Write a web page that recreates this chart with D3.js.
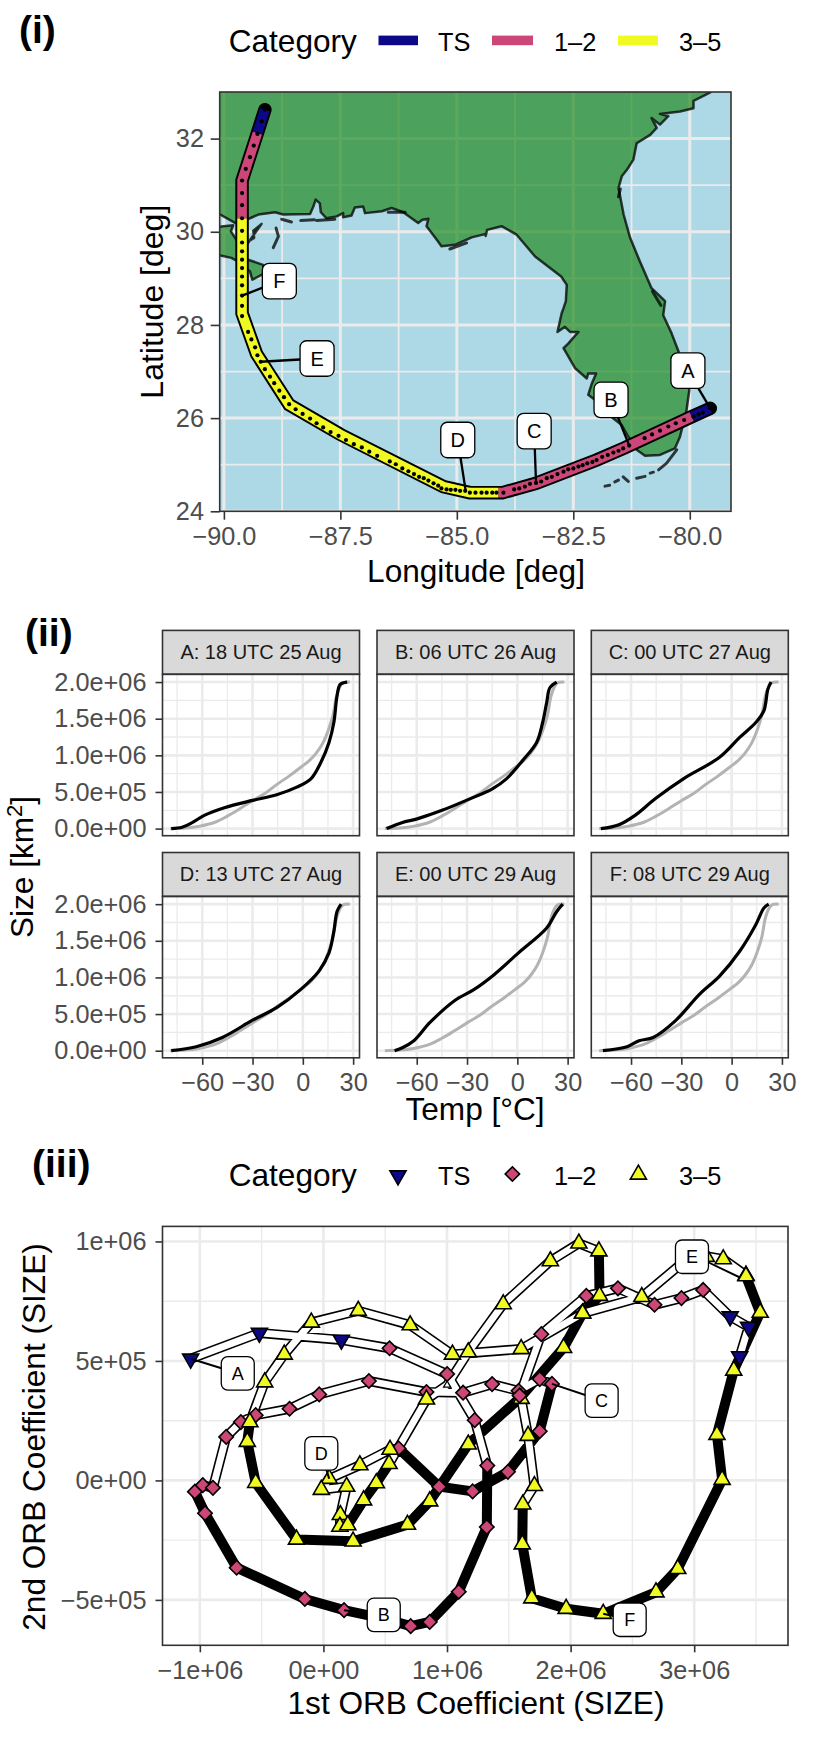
<!doctype html>
<html>
<head>
<meta charset="utf-8">
<title>Track, profiles and ORB coefficients</title>
<script src="https://cdn.jsdelivr.net/npm/d3@7/dist/d3.min.js"></script>
<style>
body { margin: 0; background: #fff; }
text { font-family: "Liberation Sans", Arial, sans-serif; }
</style>
</head>
<body>
<div id="chart-area"></div>
<script>
// Category colours and legend names
var categories = ["TS", "1\u20132", "3\u20135"];
var categoryColors = ["#0D0887", "#CC4678", "#F0F921"];
var labelNames = ["A", "B", "C", "D", "E", "F"];

// ---- Panel (i): map data, lon / lat in degrees
var lonTicks = [-90, -87.5, -85, -82.5, -80];
var lonLabels = ["\u221290.0", "\u221287.5", "\u221285.0", "\u221282.5", "\u221280.0"];
var lonMinor = [-88.75, -86.25, -83.75, -81.25];
var latTicks = [24, 26, 28, 30, 32];
var latMinor = [25, 27, 29, 31];

var coastLon = [-90.3, -90.1, -89.76, -89.44, -89.26, -88.90, -88.73, -88.15, -88.08, -88.03, -87.94, -87.92, -87.80, -87.58, -87.44, -87.44, -87.26, -87.19, -87.01, -86.97, -86.61, -86.40, -86.15, -85.83, -85.74, -85.61, -85.65, -85.43, -85.33, -85.04, -84.68, -84.40, -84.38, -84.35, -84.04, -83.72, -83.32, -82.76, -82.64, -82.66, -82.71, -82.75, -82.84, -82.68, -82.57, -82.39, -82.61, -82.71, -82.46, -82.21, -82.18, -82.01, -82.10, -82.18, -82.03, -81.64, -81.46, -81.32, -81.14, -80.96, -80.64, -80.32, -80.21, -80.07, -80.01, -80.21, -80.39, -80.57, -80.53, -80.82, -81.07, -81.28, -81.42, -81.50, -81.53, -81.46, -81.35, -81.21, -81.14, -80.85, -80.71, -80.82, -80.64, -80.46, -80.64, -80.21, -79.92, -79.92, -79.56, -79.40, -90.3];
var coastLat = [30.38, 30.38, 30.19, 30.29, 30.37, 30.42, 30.37, 30.38, 30.54, 30.69, 30.61, 30.42, 30.29, 30.33, 30.40, 30.31, 30.35, 30.52, 30.54, 30.40, 30.44, 30.51, 30.42, 30.19, 30.26, 30.28, 30.12, 29.83, 29.69, 29.72, 29.88, 29.95, 29.91, 30.04, 30.12, 29.94, 29.47, 29.04, 28.86, 28.51, 28.36, 28.25, 27.85, 27.96, 27.85, 27.85, 27.60, 27.50, 27.07, 26.85, 26.96, 26.96, 26.75, 26.50, 26.39, 25.99, 25.85, 25.60, 25.32, 25.19, 25.21, 25.35, 25.60, 26.17, 26.60, 27.35, 27.82, 28.21, 28.51, 28.79, 29.36, 29.87, 30.37, 30.79, 30.94, 31.19, 31.33, 31.55, 31.90, 32.08, 32.23, 32.44, 32.30, 32.48, 32.53, 32.58, 32.65, 32.81, 32.99, 33.3, 33.3];
var deltaLon = [-90.3, -89.80, -89.85, -89.69, -89.48, -89.35, -89.37, -89.19, -89.66, -89.48, -89.16, -89.13, -89.39, -89.44, -89.69, -89.84, -90.3];
var deltaLat = [30.09, 30.14, 30.01, 29.76, 29.79, 29.87, 30.02, 30.17, 29.51, 29.40, 29.29, 29.11, 28.97, 29.15, 29.36, 29.44, 29.54];
// islands, one list of [lon, lat] per island
var islands = [
    [[-88.76, 30.27], [-88.55, 30.21]],
    [[-88.35, 30.24], [-88.06, 30.26]],
    [[-88.01, 30.24], [-87.62, 30.27]],
    [[-88.88, 30.08], [-88.83, 29.90], [-88.94, 29.66]],
    [[-86.47, 30.42], [-86.11, 30.42]],
    [[-85.15, 29.63], [-84.79, 29.76]],
    [[-80.80, 28.72], [-80.62, 28.42]],
    [[-81.49, 30.92], [-81.53, 30.75]],
    [[-81.82, 24.54], [-81.72, 24.56]],
    [[-81.61, 24.63], [-81.53, 24.67]],
    [[-81.43, 24.74], [-81.32, 24.64]],
    [[-81.14, 24.71], [-80.96, 24.75]],
    [[-80.85, 24.82], [-80.78, 24.84]],
    [[-80.67, 24.89], [-80.50, 25.03], [-80.28, 25.32]]
];

// band along the track, with a vertex where the category changes
var trackLon = [-79.56, -79.96, -81.40, -82.00, -83.30, -84.02, -84.11, -84.72, -85.29, -87.50, -88.60, -89.30, -89.61, -89.61, -89.61, -89.28, -89.12];
var trackLat = [26.21, 26.03, 25.36, 25.10, 24.60, 24.40, 24.40, 24.40, 24.53, 25.65, 26.29, 27.38, 28.25, 30.29, 31.10, 32.12, 32.62];
var trackRuns = [[0, 1, 0], [1, 6, 1], [6, 13, 2], [13, 15, 1], [15, 16, 0]];

// hourly positions
var dotLon = [-79.56, -79.72, -79.81, -79.92, -80.12, -80.30, -80.46, -80.64, -80.81, -80.97, -81.30, -81.43, -81.53, -81.64, -81.76, -81.88, -82.00, -82.09, -82.20, -82.30, -82.39, -82.50, -82.61, -82.71, -82.84, -82.96, -83.07, -83.19, -83.30, -83.43, -83.54, -83.66, -83.77, -84.00, -84.15, -84.24, -84.36, -84.47, -84.60, -84.72, -84.82, -84.93, -85.03, -85.13, -85.22, -85.33, -85.40, -85.50, -85.61, -85.71, -85.81, -85.92, -86.04, -86.17, -86.31, -86.44, -86.71, -86.88, -87.04, -87.21, -87.38, -87.54, -87.71, -87.87, -88.01, -88.15, -88.31, -88.46, -88.60, -88.71, -88.81, -88.92, -89.01, -89.12, -89.21, -89.28, -89.33, -89.41, -89.48, -89.61, -89.61, -89.61, -89.61, -89.61, -89.61, -89.61, -89.61, -89.61, -89.61, -89.61, -89.61, -89.61, -89.61, -89.53, -89.44, -89.36, -89.28, -89.19, -89.12];
var dotLat = [26.21, 26.12, 26.08, 26.03, 25.96, 25.89, 25.82, 25.73, 25.65, 25.57, 25.41, 25.35, 25.30, 25.26, 25.21, 25.17, 25.10, 25.06, 25.03, 24.99, 24.96, 24.92, 24.90, 24.85, 24.80, 24.74, 24.71, 24.64, 24.61, 24.59, 24.53, 24.49, 24.47, 24.40, 24.40, 24.40, 24.40, 24.40, 24.40, 24.40, 24.44, 24.44, 24.46, 24.46, 24.47, 24.49, 24.55, 24.60, 24.66, 24.71, 24.74, 24.80, 24.86, 24.92, 25.01, 25.07, 25.19, 25.28, 25.37, 25.44, 25.53, 25.62, 25.70, 25.80, 25.89, 25.99, 26.09, 26.19, 26.30, 26.45, 26.59, 26.75, 26.89, 27.05, 27.21, 27.35, 27.52, 27.69, 27.85, 28.19, 28.41, 28.63, 28.85, 29.04, 29.22, 29.40, 29.58, 29.77, 30.02, 30.29, 30.57, 30.83, 31.10, 31.35, 31.60, 31.85, 32.10, 32.37, 32.62];

var mapLabelLon = [-80.04, -81.69, -83.34, -84.98, -88.00, -88.81];
var mapLabelLat = [27.02, 26.39, 25.72, 25.53, 27.28, 28.94];
var mapTargetLon = [-79.56, -81.30, -83.30, -84.81, -89.21, -89.61];
var mapTargetLat = [26.21, 25.41, 24.61, 24.44, 27.21, 28.63];

// ---- Panel (ii): temperature in deg C, size in 1e6 km2
var stripNames = ["A: 18 UTC 25 Aug", "B: 06 UTC 26 Aug", "C: 00 UTC 27 Aug", "D: 13 UTC 27 Aug", "E: 00 UTC 29 Aug", "F: 08 UTC 29 Aug"];
var tempTicks = [-60, -30, 0, 30];
var tempLabels = ["\u221260", "\u221230", "0", "30"];
var tempMinor = [-75, -45, -15, 15];
var sizeTicks = [0, 0.5, 1, 1.5, 2];
var sizeLabels = ["0.0e+00", "5.0e+05", "1.0e+06", "1.5e+06", "2.0e+06"];
var sizeMinor = [0.25, 0.75, 1.25, 1.75];

var meanTemp = [-79, -70, -62, -52, -45, -38, -30, -22, -15, -8, -1, 4, 8, 12, 15, 18, 20, 22, 24, 28];
var meanSize = [0, 0.008, 0.03, 0.09, 0.17, 0.265, 0.38, 0.49, 0.61, 0.72, 0.84, 0.93, 1.03, 1.17, 1.33, 1.55, 1.8, 1.93, 1.99, 2];

var tempA = [-78.5, -72, -66, -58.8, -46.8, -30, -15.6, -3.6, 4.8, 10.8, 15.6, 18.5, 20.4, 22.3, 26.4];
var sizeA = [0, 0.018, 0.081, 0.181, 0.285, 0.385, 0.462, 0.566, 0.679, 0.905, 1.176, 1.448, 1.81, 1.968, 2];
var tempB = [-78, -68.9, -59.3, -44.9, -30.5, -14.9, -6.5, 3.1, 11.5, 15.1, 17.5, 19.4, 23.5];
var sizeB = [0, 0.081, 0.136, 0.249, 0.385, 0.543, 0.679, 0.928, 1.176, 1.448, 1.719, 1.923, 2];
var tempC = [-78, -67.2, -57.6, -45.6, -28.8, -7.2, 4.8, 14.4, 19.2, 21.6, 23.5];
var sizeC = [0, 0.054, 0.181, 0.407, 0.679, 0.973, 1.244, 1.448, 1.606, 1.9, 2];
var tempD = [-78.5, -63.6, -48, -30, -15.6, -1.2, 9.6, 15.6, 18.5, 20.4, 22.8];
var sizeD = [0, 0.054, 0.181, 0.416, 0.588, 0.837, 1.086, 1.335, 1.629, 1.9, 2];
var tempE = [-73.2, -68.9, -61.7, -52.1, -37.7, -25.7, -13.7, 0.7, 17.5, 23.5, 27.1];
var sizeE = [0, 0.036, 0.136, 0.385, 0.679, 0.837, 1.041, 1.335, 1.674, 1.9, 2];
var tempF = [-76.8, -62.4, -55.2, -46.8, -33.6, -19.2, -7.2, 4.8, 14.4, 19.2, 22.1];
var sizeF = [0, 0.054, 0.136, 0.181, 0.407, 0.769, 1.018, 1.357, 1.719, 1.946, 2];
var profileTemps = [tempA, tempB, tempC, tempD, tempE, tempF];
var profileSizes = [sizeA, sizeB, sizeC, sizeD, sizeE, sizeF];

// ---- Panel (iii): ORB coefficients in units of 1e6, one point per hour
var orbX = [-1.074, -0.518, 0.145, 0.535, 1.001, 1.224, 1.326, 1.322, 1.095, 0.860, 0.706, 0.488, 0.167, -0.150, -0.702, -0.958, -1.040, -0.976, -0.894, -0.787, -0.668, -0.548, -0.274, -0.034, 0.368, 0.834, 1.130, 1.365, 1.579, 1.750, 1.849, 1.750, 1.493, 1.207, 0.937, 0.608, 0.539, 0.295, 0.047, -0.017, 0.188, 0.137, 0.133, 0.197, 0.325, 0.428, 0.531, 0.834, 1.001, 1.172, 1.455, 1.836, 2.067, 2.229, 2.234, 2.097, 1.943, 1.590, 1.172, 0.860, 0.680, 0.240, -0.218, -0.548, -0.616, -0.595, -0.475, -0.317, -0.098, 0.282, 0.702, 1.044, 1.600, 2.097, 2.576, 2.991, 3.235, 3.419, 3.098, 3.419, 3.534, 3.320, 3.184, 3.226, 2.867, 2.691, 2.264, 1.964, 1.686, 1.609, 1.613, 1.707, 1.656, 1.600, 1.587, 1.763, 2.127, 2.383, 2.679, 2.897, 3.072, 3.291, 3.440, 3.368];
var orbY = [0.509, 0.617, 0.588, 0.553, 0.445, 0.252, 0.062, -0.195, -0.466, -0.592, -0.610, -0.578, -0.543, -0.496, -0.365, -0.137, -0.047, -0.020, -0.031, 0.182, 0.244, 0.273, 0.300, 0.360, 0.416, 0.370, 0.367, 0.403, 0.375, 0.424, 0.404, 0.206, 0.036, -0.046, -0.026, 0.134, 0.129, 0.064, 0.007, -0.039, -0.026, -0.144, -0.193, -0.187, -0.083, -0.011, 0.069, 0.339, 0.399, 0.537, 0.738, 0.918, 0.992, 0.959, 0.773, 0.699, 0.555, 0.345, 0.151, -0.087, -0.185, -0.255, -0.247, -0.010, 0.162, 0.244, 0.411, 0.527, 0.661, 0.710, 0.650, 0.527, 0.550, 0.699, 0.768, 0.948, 0.926, 0.858, 0.936, 0.855, 0.702, 0.460, 0.191, 0.003, -0.370, -0.468, -0.558, -0.537, -0.493, -0.267, -0.100, -0.023, 0.187, 0.342, 0.355, 0.612, 0.772, 0.804, 0.735, 0.763, 0.797, 0.686, 0.642, 0.519];
// [first, last, category] of the hourly points
var orbCategoryRuns = [[0, 2, 0], [3, 35, 1], [36, 93, 2], [94, 100, 1], [101, 103, 0]];
// stretches of the path that are drawn solid
var orbSolidRuns = [[6, 16], [30, 35], [43, 46], [53, 65], [78, 90]];
var orbLabelX = [-0.693, 0.488, 2.251, -0.017, 2.982, 2.478];
var orbLabelY = [0.448, -0.563, 0.334, 0.113, 0.936, -0.583];
var orbLabelTarget = [0, 12, 30, 38, 78, 86];
var orbXTicks = [-1, 0, 1, 2, 3];
var orbXLabels = ["\u22121e+06", "0e+00", "1e+06", "2e+06", "3e+06"];
var orbXMinor = [-0.5, 0.5, 1.5, 2.5, 3.5];
var orbYTicks = [-0.5, 0, 0.5, 1];
var orbYLabels = ["\u22125e+05", "0e+00", "5e+05", "1e+06"];
var orbYMinor = [-0.25, 0.25, 0.75];
var faintMarker = 48;

var svg = d3.select("#chart-area").append("svg")
    .attr("width", 830).attr("height", 1764)
    .style("display", "block");

var tickFont = 25.3, titleFont = 31.6, borderColor = "#333333", gridColor = "#EBEBEB";

// ---- helpers
function addText(x, y, str, size, opts) {
    opts = opts || {};
    var t = svg.append("text").attr("x", x).attr("y", y)
        .attr("font-size", size + "px")
        .attr("text-anchor", opts.anchor || "start")
        .attr("font-weight", opts.weight || "normal")
        .attr("fill", "#000")
        .text(str);
    if (opts.rotate) { t.attr("transform", "rotate(-90 " + x + " " + y + ")"); }
    return t;
}

function drawGrid(g, x, y, xMajor, xMinor, yMajor, yMinor, majorW, minorW) {
    var r = x.range(), s = y.range();
    g.selectAll(null).data(xMinor).enter().append("line")
        .attr("x1", x).attr("x2", x).attr("y1", s[0]).attr("y2", s[1])
        .attr("stroke", gridColor).attr("stroke-width", minorW);
    g.selectAll(null).data(yMinor).enter().append("line")
        .attr("y1", y).attr("y2", y).attr("x1", r[0]).attr("x2", r[1])
        .attr("stroke", gridColor).attr("stroke-width", minorW);
    g.selectAll(null).data(xMajor).enter().append("line")
        .attr("x1", x).attr("x2", x).attr("y1", s[0]).attr("y2", s[1])
        .attr("stroke", gridColor).attr("stroke-width", majorW);
    g.selectAll(null).data(yMajor).enter().append("line")
        .attr("y1", y).attr("y2", y).attr("x1", r[0]).attr("x2", r[1])
        .attr("stroke", gridColor).attr("stroke-width", majorW);
}

function styleAxis(a) {
    a.select(".domain").remove();
    a.selectAll(".tick line").attr("stroke", borderColor).attr("stroke-width", 1.6);
    a.selectAll(".tick text").attr("fill", "#4D4D4D").attr("font-size", tickFont + "px")
        .attr("font-family", '"Liberation Sans", Arial, sans-serif');
}

function bottomAxis(x, ypos, ticks, labels, size, pad) {
    svg.append("g").attr("transform", "translate(0," + ypos + ")")
        .call(d3.axisBottom(x).tickValues(ticks).tickSize(size).tickPadding(pad)
            .tickFormat(function(d, i) { return labels[i]; }))
        .call(styleAxis);
}

function leftAxis(y, xpos, ticks, labels, size, pad) {
    svg.append("g").attr("transform", "translate(" + xpos + ",0)")
        .call(d3.axisLeft(y).tickValues(ticks).tickSize(size).tickPadding(pad)
            .tickFormat(function(d, i) { return labels[i]; }))
        .call(styleAxis);
}

function drawBorder(parent, x, y, w, h) {
    parent.append("rect").attr("x", x).attr("y", y).attr("width", w).attr("height", h)
        .attr("fill", "none").attr("stroke", borderColor).attr("stroke-width", 1.6);
}

function labelBox(cx, cy, name, w, h, fontSize) {
    svg.append("rect").attr("x", cx - w / 2).attr("y", cy - h / 2)
        .attr("width", w).attr("height", h).attr("rx", 6.5)
        .attr("fill", "#fff").attr("stroke", "#000").attr("stroke-width", 1.3);
    svg.append("text").attr("x", cx).attr("y", cy + fontSize * 0.36)
        .attr("text-anchor", "middle").attr("font-size", fontSize + "px").text(name);
}

function legendTexts(base) {
    addText(228.7, base + 1, "Category", titleFont);
    addText(438, base, categories[0], tickFont);
    addText(554, base, categories[1], tickFont);
    addText(679, base, categories[2], tickFont);
}

var triangle = d3.symbol().type(d3.symbolTriangle).size(112);
var square = d3.symbol().type(d3.symbolSquare).size(104);

function marker(parent, cx, cy, cat, faint) {
    var p = parent.append("path").attr("stroke", "#000").attr("stroke-width", 1.6)
        .attr("stroke-linejoin", "miter");
    if (faint) {
        p.attr("d", d3.symbol().type(d3.symbolTriangle).size(22)())
            .attr("fill", "#fff").attr("stroke-width", 1.3)
            .attr("transform", "translate(" + cx + "," + cy + ")");
        return;
    }
    p.attr("fill", categoryColors[cat]);
    if (cat == 0) {
        p.attr("d", triangle()).attr("transform", "translate(" + cx + "," + cy + ") rotate(180)");
    } else if (cat == 1) {
        p.attr("d", square()).attr("transform", "translate(" + cx + "," + cy + ") rotate(45)");
    } else {
        p.attr("d", triangle()).attr("transform", "translate(" + cx + "," + cy + ")");
    }
}

// ---- Panel (i)
addText(19, 43, "(i)", 39, { weight: "bold" });
legendTexts(50.5);
svg.append("rect").attr("x", 378.5).attr("y", 35.6).attr("width", 39.5).attr("height", 9.6).attr("fill", categoryColors[0]);
svg.append("rect").attr("x", 492).attr("y", 35.6).attr("width", 41).attr("height", 9.6).attr("fill", categoryColors[1]);
svg.append("rect").attr("x", 618).attr("y", 35.6).attr("width", 40).attr("height", 9.6).attr("fill", categoryColors[2]);

var mapX = d3.scaleLinear().domain([-90.09, -79.115]).range([219.7, 731]);
var mapY = d3.scaleLinear().domain([24, 33]).range([511.3, 92]);

svg.append("clipPath").attr("id", "map-clip").append("rect")
    .attr("x", 219.7).attr("y", 92).attr("width", 511.3).attr("height", 419.3);

var map = svg.append("g").attr("clip-path", "url(#map-clip)");
map.append("rect").attr("x", 219.7).attr("y", 92).attr("width", 511.3).attr("height", 419.3).attr("fill", "#ADD8E6");
drawGrid(map, mapX, mapY, lonTicks, lonMinor, latTicks, latMinor, 3, 1.8);

var geoLine = d3.line().x(function(d) { return mapX(d[0]); }).y(function(d) { return mapY(d[1]); });
var coast = coastLon.map(function(d, i) { return [d, coastLat[i]]; });
var delta = deltaLon.map(function(d, i) { return [d, deltaLat[i]]; });

[coast, delta].forEach(function(poly) {
    map.append("path").attr("d", geoLine(poly) + "Z")
        .attr("fill", "#228B22").attr("fill-opacity", 0.7)
        .attr("stroke", "#000").attr("stroke-opacity", 0.75).attr("stroke-width", 2.5)
        .attr("stroke-linejoin", "round");
});
islands.forEach(function(isl) {
    map.append("path").attr("d", geoLine(isl))
        .attr("fill", "none").attr("stroke", "#000").attr("stroke-opacity", 0.75)
        .attr("stroke-width", 3).attr("stroke-linecap", "round");
});

var track = trackLon.map(function(d, i) { return [d, trackLat[i]]; });
map.append("path").attr("d", geoLine(track)).attr("fill", "none")
    .attr("stroke", "#000").attr("stroke-width", 13.5)
    .attr("stroke-linecap", "round").attr("stroke-linejoin", "miter");
trackRuns.forEach(function(run) {
    map.append("path").attr("d", geoLine(track.slice(run[0], run[1] + 1))).attr("fill", "none")
        .attr("stroke", categoryColors[run[2]]).attr("stroke-width", 9.6)
        .attr("stroke-linejoin", "miter");
});
map.selectAll(null).data(dotLon).enter().append("circle")
    .attr("cx", function(d) { return mapX(d); })
    .attr("cy", function(d, i) { return mapY(dotLat[i]); })
    .attr("r", 2.1).attr("fill", "#000");

// map labels
labelNames.forEach(function(name, i) {
    svg.append("line")
        .attr("x1", mapX(mapLabelLon[i])).attr("y1", mapY(mapLabelLat[i]))
        .attr("x2", mapX(mapTargetLon[i])).attr("y2", mapY(mapTargetLat[i]))
        .attr("stroke", "#000").attr("stroke-width", 2.3);
});
labelNames.forEach(function(name, i) {
    labelBox(mapX(mapLabelLon[i]), mapY(mapLabelLat[i]), name, 34, 35.5, 20);
});

drawBorder(svg, 219.7, 92, 511.3, 419.3);
bottomAxis(mapX, 511.3, lonTicks, lonLabels, 8.4, 7.3);
leftAxis(mapY, 219.7, latTicks, latTicks, 9, 6.7);
addText(476, 582, "Longitude [deg]", titleFont, { anchor: "middle" });
addText(163, 301.7, "Latitude [deg]", 32, { anchor: "middle", rotate: true });

// ---- Panel (ii)
addText(25, 646, "(ii)", 39, { weight: "bold" });

var colLefts = [162.5, 377, 591.3];
var rowTops = [674.3, 896.4];
var facetW = 197, facetH = 161.4, stripH = 43.9;

stripNames.forEach(function(name, k) {
    var col = k % 3, row = Math.floor(k / 3);
    var left = colLefts[col], top = rowTops[row];
    var x = d3.scaleLinear().domain([-83.7, 33.8]).range([left, left + facetW]);
    var y = d3.scaleLinear().domain([-0.097, 2.106]).range([top + facetH, top]);

    var g = svg.append("g");
    drawGrid(g, x, y, tempTicks, tempMinor, sizeTicks, sizeMinor, 2.6, 1.3);

    var curve = d3.line().x(function(d) { return x(d[0]); }).y(function(d) { return y(d[1]); })
        .curve(d3.curveCatmullRom.alpha(0.5));
    g.append("path").attr("d", curve(meanTemp.map(function(d, i) { return [d, meanSize[i]]; })))
        .attr("fill", "none").attr("stroke", "#B3B3B3").attr("stroke-width", 3);
    g.append("path").attr("d", curve(profileTemps[k].map(function(d, i) { return [d, profileSizes[k][i]]; })))
        .attr("fill", "none").attr("stroke", "#000").attr("stroke-width", 3.2);

    g.append("rect").attr("x", left).attr("y", top - stripH).attr("width", facetW).attr("height", stripH)
        .attr("fill", "#D9D9D9").attr("stroke", borderColor).attr("stroke-width", 1.6);
    drawBorder(g, left, top, facetW, facetH);
    g.append("text").attr("x", left + facetW / 2).attr("y", top - stripH / 2 + 7)
        .attr("text-anchor", "middle").attr("font-size", "20px").attr("fill", "#1A1A1A").text(name);

    if (row == 1) { bottomAxis(x, top + facetH, tempTicks, tempLabels, 7, 8); }
    if (col == 0) { leftAxis(y, left, sizeTicks, sizeLabels, 7, 9); }
});

addText(475, 1119.6, "Temp [\u00B0C]", titleFont, { anchor: "middle" });
var sizeTitle = addText(33, 867, "Size [km", titleFont, { anchor: "middle", rotate: true });
sizeTitle.append("tspan").attr("font-size", "22px").attr("dy", -11).text("2");
sizeTitle.append("tspan").attr("dy", 11).text("]");

// ---- Panel (iii)
addText(32, 1177, "(iii)", 39, { weight: "bold" });
legendTexts(1184.5);
marker(svg, 398, 1175.5, 0);
marker(svg, 512.4, 1174, 1);
marker(svg, 638.4, 1174.5, 2);

var orbXScale = d3.scaleLinear().domain([-1.302, 3.759]).range([162.5, 788]);
var orbYScale = d3.scaleLinear().domain([-0.69, 1.063]).range([1645.3, 1226.4]);

var orb = svg.append("g");
drawGrid(orb, orbXScale, orbYScale, orbXTicks, orbXMinor, orbYTicks, orbYMinor, 2.6, 1.4);

var orbPts = orbX.map(function(d, i) { return [d, orbY[i]]; });
var orbLine = d3.line().x(function(d) { return orbXScale(d[0]); }).y(function(d) { return orbYScale(d[1]); });

orb.append("path").attr("d", orbLine(orbPts)).attr("fill", "none")
    .attr("stroke", "#000").attr("stroke-width", 10)
    .attr("stroke-linejoin", "round");

// the open stretches are everything between the solid runs
var openStart = 0;
orbSolidRuns.concat([[orbPts.length - 1, orbPts.length - 1]]).forEach(function(run) {
    orb.append("path").attr("d", orbLine(orbPts.slice(openStart, run[0] + 1))).attr("fill", "none")
        .attr("stroke", "#fff").attr("stroke-width", 6.8)
        .attr("stroke-linejoin", "round");
    openStart = run[1];
});

orbCategoryRuns.forEach(function(run) {
    d3.range(run[0], run[1] + 1).forEach(function(i) {
        marker(orb, orbXScale(orbX[i]), orbYScale(orbY[i]), run[2], i == faintMarker);
    });
});

labelNames.forEach(function(name, i) {
    var t = orbLabelTarget[i];
    svg.append("line")
        .attr("x1", orbXScale(orbLabelX[i])).attr("y1", orbYScale(orbLabelY[i]))
        .attr("x2", orbXScale(orbX[t])).attr("y2", orbYScale(orbY[t]))
        .attr("stroke", "#000").attr("stroke-width", 2.1);
});
labelNames.forEach(function(name, i) {
    labelBox(orbXScale(orbLabelX[i]), orbYScale(orbLabelY[i]), name, 33, 33.5, 18);
});

drawBorder(svg, 162.5, 1226.4, 625.5, 418.9);
bottomAxis(orbXScale, 1645.3, orbXTicks, orbXLabels, 7, 8.3);
leftAxis(orbYScale, 162.5, orbYTicks, orbYLabels, 7, 9);
addText(476, 1714, "1st ORB Coefficient (SIZE)", titleFont, { anchor: "middle" });
addText(45, 1437, "2nd ORB Coefficient (SIZE)", titleFont, { anchor: "middle", rotate: true });
</script>
</body>
</html>
